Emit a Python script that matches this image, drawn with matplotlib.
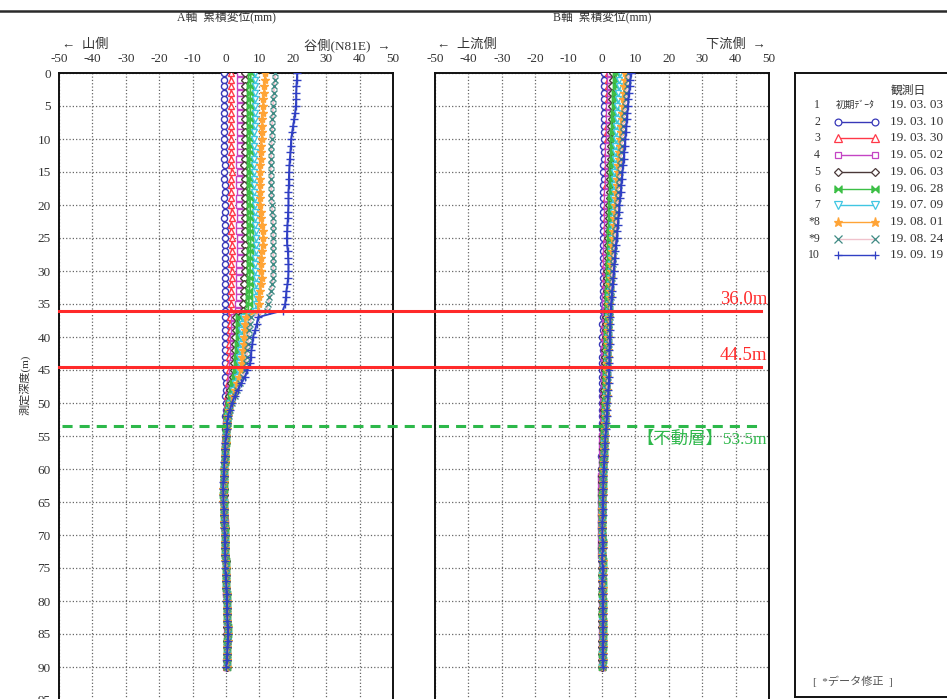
import numpy as np
import matplotlib
matplotlib.use("Agg")
import matplotlib.pyplot as plt
from matplotlib import transforms
from matplotlib.lines import Line2D

plt.rcParams['font.family'] = ['Liberation Serif', 'Noto Sans CJK JP', 'DejaVu Sans']
plt.rcParams['axes.unicode_minus'] = False

# depth of each reading (m)
depth = np.arange(0, 91, 1.0)

# A axis cumulative displacement (mm), one list per survey
a_s2 = [-0.6,-0.6,-0.7,-0.6,-0.6,-0.5,-0.6,-0.6,-0.5,-0.5,
        -0.5,-0.6,-0.5,-0.5,-0.4,-0.5,-0.5,-0.4,-0.4,-0.5,
        -0.4,-0.4,-0.5,-0.4,-0.4,-0.3,-0.4,-0.4,-0.3,-0.3,
        -0.3,-0.4,-0.3,-0.3,-0.2,-0.3,-0.3,-0.3,-0.2,-0.2,
        -0.2,-0.3,-0.2,-0.2,-0.2,-0.1,-0.2,-0.1,-0.1,-0.2,
        -0.1,-0.1,-0.2,-0.1,-0.2,-0.3,-0.3,-0.4,-0.4,-0.5,
        -0.5,-0.6,-0.6,-0.7,-0.6,-0.6,-0.5,-0.5,-0.4,-0.4,
        -0.3,-0.3,-0.2,-0.2,-0.1,-0.1,0.0,0.0,0.1,0.1,
        0.1,0.2,0.2,0.2,0.3,0.3,0.3,0.2,0.2,0.1,
        0.1]
a_s3 = [1.4,1.5,1.5,1.6,1.5,1.5,1.6,1.6,1.5,1.5,
        1.5,1.6,1.6,1.5,1.6,1.7,1.6,1.6,1.5,1.6,
        1.6,1.7,1.7,1.6,1.6,1.7,1.8,1.7,1.7,1.6,
        1.7,1.7,1.6,1.6,1.5,1.5,1.4,1.2,1.2,1.1,
        1.1,1.0,1.0,1.0,0.9,0.9,0.8,0.6,0.5,0.4,
        0.3,0.2,0.1,0.0,-0.1,-0.2,-0.2,-0.3,-0.3,-0.4,
        -0.5,-0.5,-0.6,-0.6,-0.6,-0.5,-0.5,-0.4,-0.4,-0.3,
        -0.3,-0.2,-0.2,-0.1,-0.1,0.0,0.0,0.1,0.1,0.2,
        0.2,0.2,0.3,0.3,0.4,0.4,0.3,0.3,0.2,0.2,
        0.1]
a_s4 = [4.2,4.3,4.2,4.2,4.1,4.2,4.2,4.1,4.1,4.2,
        4.1,4.1,4.2,4.0,4.0,4.1,4.0,4.0,4.1,4.0,
        4.0,4.1,4.1,4.0,4.0,4.1,4.2,4.1,4.1,4.0,
        4.0,4.0,3.9,3.9,3.8,3.7,3.5,2.5,2.4,2.3,
        2.2,2.2,2.1,2.0,1.9,1.8,1.6,1.3,1.0,0.8,
        0.6,0.4,0.2,0.1,0.0,-0.1,-0.2,-0.3,-0.4,-0.4,
        -0.5,-0.6,-0.6,-0.7,-0.7,-0.6,-0.6,-0.5,-0.4,-0.4,
        -0.3,-0.3,-0.2,-0.2,-0.1,-0.1,0.0,0.0,0.1,0.1,
        0.2,0.2,0.2,0.3,0.3,0.4,0.4,0.3,0.3,0.2,
        0.2]
a_s5 = [5.7,5.8,5.8,5.7,5.7,5.8,5.7,5.6,5.6,5.7,
        5.6,5.6,5.7,5.6,5.5,5.6,5.6,5.5,5.6,5.6,
        5.6,5.7,5.7,5.6,5.6,5.7,5.8,5.7,5.7,5.6,
        5.6,5.5,5.5,5.4,5.3,5.2,5.0,3.1,3.0,2.9,
        2.8,2.8,2.7,2.6,2.4,2.3,2.0,1.6,1.3,1.0,
        0.8,0.5,0.3,0.2,0.1,0.0,-0.1,-0.2,-0.3,-0.4,
        -0.5,-0.5,-0.6,-0.7,-0.7,-0.7,-0.6,-0.5,-0.5,-0.4,
        -0.3,-0.3,-0.2,-0.2,-0.1,0.0,0.0,0.1,0.1,0.2,
        0.2,0.3,0.3,0.3,0.4,0.4,0.4,0.3,0.3,0.2,
        0.2]
a_s6 = [7.4,7.4,7.3,7.3,7.2,7.3,7.3,7.2,7.2,7.2,
        7.1,7.2,7.2,7.1,7.1,7.2,7.2,7.1,7.1,7.2,
        7.2,7.3,7.3,7.2,7.2,7.3,7.4,7.3,7.3,7.2,
        7.2,7.1,7.1,7.0,6.9,6.8,6.6,4.0,3.9,3.8,
        3.8,3.7,3.6,3.4,3.3,3.0,2.7,2.2,1.8,1.4,
        1.0,0.7,0.4,0.3,0.1,0.0,-0.1,-0.2,-0.3,-0.4,
        -0.5,-0.6,-0.7,-0.7,-0.8,-0.7,-0.6,-0.6,-0.5,-0.4,
        -0.4,-0.3,-0.3,-0.2,-0.1,-0.1,0.0,0.1,0.1,0.2,
        0.3,0.3,0.4,0.4,0.5,0.5,0.4,0.4,0.3,0.3,
        0.2]
a_s7 = [8.8,8.8,8.7,8.7,8.6,8.7,8.6,8.6,8.6,8.5,
        8.5,8.5,8.6,8.5,8.4,8.5,8.5,8.4,8.5,8.6,
        8.6,8.7,8.8,8.8,8.9,9.0,9.0,8.9,8.8,8.8,
        8.8,8.9,9.0,9.0,9.1,9.0,8.8,5.0,4.8,4.6,
        4.5,4.4,4.2,4.0,3.9,3.6,3.2,2.7,2.2,1.7,
        1.2,0.8,0.5,0.3,0.1,0.0,-0.1,-0.2,-0.3,-0.4,
        -0.5,-0.6,-0.7,-0.8,-0.8,-0.7,-0.7,-0.6,-0.5,-0.5,
        -0.4,-0.3,-0.3,-0.2,-0.2,-0.1,0.0,0.0,0.1,0.2,
        0.2,0.3,0.3,0.4,0.4,0.5,0.5,0.4,0.3,0.3,
        0.2]
a_s8 = [11.7,11.6,11.5,11.4,11.2,11.1,11.0,10.9,10.8,10.8,
        10.7,10.6,10.5,10.4,10.3,10.2,10.2,10.1,10.2,10.2,
        10.2,10.4,10.6,10.8,11.0,11.1,11.0,10.8,10.6,10.5,
        10.6,10.7,10.5,10.3,10.0,9.8,9.6,6.0,5.8,5.6,
        5.5,5.3,5.1,4.9,4.7,4.4,3.9,3.3,2.7,2.1,
        1.5,1.0,0.6,0.4,0.2,0.0,-0.1,-0.2,-0.3,-0.4,
        -0.5,-0.6,-0.7,-0.8,-0.8,-0.8,-0.7,-0.6,-0.5,-0.5,
        -0.4,-0.4,-0.3,-0.2,-0.2,-0.1,0.0,0.0,0.1,0.2,
        0.3,0.3,0.4,0.4,0.5,0.5,0.5,0.4,0.3,0.3,
        0.2]
a_s9 = [14.7,14.6,14.4,14.3,14.2,14.1,14.0,13.9,13.8,13.8,
        13.7,13.6,13.5,13.5,13.4,13.4,13.4,13.5,13.6,13.6,
        13.7,13.9,14.0,14.1,14.2,14.1,14.0,14.1,14.2,14.2,
        14.1,14.0,13.8,13.4,13.0,12.6,12.2,7.5,7.3,7.0,
        6.8,6.6,6.4,6.2,6.0,5.6,5.0,4.2,3.4,2.6,
        1.9,1.3,0.8,0.5,0.2,0.0,-0.1,-0.2,-0.3,-0.4,
        -0.6,-0.7,-0.8,-0.8,-0.9,-0.8,-0.7,-0.6,-0.6,-0.5,
        -0.4,-0.4,-0.3,-0.3,-0.2,-0.1,0.0,0.0,0.1,0.2,
        0.2,0.3,0.4,0.4,0.5,0.6,0.5,0.4,0.4,0.3,
        0.2]
a_s10 = [21.3,21.2,21.1,21.0,21.0,20.9,20.7,20.4,20.1,19.8,
         19.5,19.4,19.3,19.1,19.0,18.9,18.8,18.8,18.7,18.7,
         18.7,18.6,18.5,18.4,18.3,18.2,18.3,18.5,18.6,18.7,
         18.7,18.6,18.4,18.1,17.9,17.7,17.0,9.6,9.2,8.7,
         8.1,7.9,7.6,7.4,7.2,6.4,5.7,4.6,3.5,2.6,
         1.8,1.2,0.6,0.3,0.2,0.0,-0.2,-0.3,-0.4,-0.5,
         -0.6,-0.7,-0.8,-0.9,-0.8,-0.8,-0.7,-0.6,-0.5,-0.5,
         -0.4,-0.4,-0.3,-0.3,-0.2,-0.2,-0.1,0.0,0.1,0.2,
         0.2,0.3,0.3,0.4,0.5,0.6,0.5,0.4,0.3,0.2,
         0.1]

# B axis cumulative displacement (mm)
b_s2 = [0.6,0.6,0.5,0.6,0.5,0.5,0.5,0.6,0.5,0.5,
        0.5,0.4,0.5,0.5,0.4,0.4,0.5,0.4,0.4,0.4,
        0.4,0.4,0.3,0.4,0.4,0.3,0.3,0.4,0.3,0.3,
        0.3,0.3,0.2,0.3,0.2,0.2,0.2,0.2,0.1,0.2,
        0.1,0.1,0.2,0.1,0.1,0.0,0.1,0.0,0.0,0.1,
        0.0,0.0,0.1,0.0,-0.1,0.0,-0.1,-0.1,-0.2,-0.1,
        -0.2,-0.2,-0.1,-0.2,-0.2,-0.3,-0.2,-0.2,-0.3,-0.2,
        -0.2,-0.1,-0.2,-0.1,-0.1,0.0,-0.1,0.0,0.0,0.1,
        0.0,0.1,0.1,0.0,0.1,0.1,0.0,0.1,0.0,0.0,
        0.0]
b_s3 = [1.9,1.9,1.8,1.8,1.8,1.7,1.7,1.7,1.6,1.6,
        1.6,1.5,1.5,1.5,1.4,1.4,1.4,1.3,1.3,1.3,
        1.3,1.2,1.2,1.2,1.1,1.1,1.1,1.0,1.0,1.0,
        1.0,0.9,0.9,0.9,0.8,0.8,0.8,0.8,0.7,0.7,
        0.7,0.7,0.6,0.6,0.6,0.6,0.5,0.5,0.5,0.5,
        0.4,0.4,0.4,0.3,0.3,0.3,0.2,0.2,0.2,0.1,
        0.1,0.1,0.0,0.0,0.0,-0.1,-0.1,-0.1,0.0,0.0,
        0.0,0.0,0.1,0.0,0.0,0.1,0.0,0.0,0.1,0.1,
        0.0,0.1,0.1,0.0,0.0,0.1,0.1,0.0,0.0,0.0,
        0.0]
b_s4 = [2.5,2.4,2.4,2.3,2.3,2.2,2.2,2.1,2.1,2.0,
        2.0,1.9,1.9,1.9,1.8,1.8,1.7,1.7,1.6,1.6,
        1.6,1.5,1.5,1.4,1.4,1.4,1.3,1.3,1.3,1.2,
        1.2,1.1,1.1,1.1,1.0,1.0,1.0,0.9,0.9,0.8,
        0.8,0.8,0.7,0.7,0.6,0.6,0.6,0.5,0.5,0.4,
        0.4,0.3,0.3,0.2,0.2,0.1,0.1,0.0,0.0,-0.1,
        -0.1,-0.2,-0.2,-0.3,-0.3,-0.3,-0.4,-0.4,-0.3,-0.3,
        -0.3,-0.2,-0.2,-0.2,-0.1,-0.1,0.0,0.0,-0.1,0.0,
        0.0,0.0,-0.1,0.0,0.0,0.1,0.0,0.0,-0.1,0.0,
        0.0]
b_s5 = [3.2,3.2,3.1,3.1,3.0,3.0,2.9,2.9,2.8,2.8,
        2.7,2.7,2.6,2.6,2.5,2.5,2.4,2.4,2.3,2.3,
        2.2,2.2,2.1,2.0,2.0,1.9,1.9,1.8,1.8,1.7,
        1.6,1.6,1.5,1.5,1.4,1.4,1.3,1.3,1.2,1.2,
        1.1,1.1,1.0,1.0,0.9,0.9,0.8,0.8,0.7,0.7,
        0.6,0.6,0.5,0.5,0.4,0.4,0.3,0.3,0.2,0.2,
        0.1,0.1,0.0,0.0,-0.1,-0.1,-0.1,0.0,0.0,0.0,
        0.0,0.1,0.0,0.0,0.1,0.1,0.0,0.1,0.1,0.0,
        0.1,0.1,0.0,0.1,0.1,0.2,0.1,0.1,0.0,0.1,
        0.1]
b_s6 = [4.3,4.2,4.1,4.0,3.9,3.8,3.7,3.6,3.5,3.4,
        3.4,3.3,3.2,3.2,3.1,3.0,3.0,2.9,2.9,2.8,
        2.8,2.7,2.7,2.6,2.5,2.5,2.4,2.3,2.3,2.2,
        2.1,2.1,2.0,1.9,1.9,1.8,1.8,1.7,1.7,1.6,
        1.6,1.5,1.5,1.4,1.4,1.3,1.3,1.2,1.2,1.1,
        1.0,1.0,0.9,0.8,0.7,0.7,0.6,0.5,0.5,0.4,
        0.3,0.3,0.2,0.2,0.1,0.1,0.1,0.0,0.1,0.1,
        0.1,0.2,0.1,0.1,0.2,0.2,0.1,0.2,0.2,0.1,
        0.2,0.2,0.1,0.2,0.2,0.3,0.2,0.2,0.1,0.2,
        0.1]
b_s7 = [5.3,5.2,5.0,4.9,4.7,4.6,4.5,4.4,4.3,4.2,
        4.1,4.0,3.9,3.9,3.8,3.7,3.6,3.6,3.5,3.4,
        3.4,3.3,3.2,3.1,3.0,3.0,2.9,2.8,2.7,2.7,
        2.6,2.5,2.4,2.3,2.2,2.1,2.0,1.9,1.9,1.8,
        1.8,1.7,1.7,1.6,1.6,1.5,1.5,1.4,1.3,1.3,
        1.2,1.1,1.0,0.9,0.8,0.8,0.7,0.6,0.5,0.5,
        0.4,0.3,0.3,0.2,0.2,0.1,0.1,0.1,0.1,0.0,
        0.1,0.1,0.2,0.1,0.1,0.2,0.1,0.1,0.2,0.2,
        0.1,0.2,0.2,0.1,0.2,0.2,0.3,0.2,0.1,0.2,
        0.1]
b_s8 = [7.0,6.9,6.7,6.5,6.3,6.2,6.0,5.9,5.7,5.6,
        5.5,5.3,5.2,5.0,4.9,4.8,4.6,4.5,4.3,4.2,
        4.0,3.9,3.7,3.6,3.4,3.3,3.1,3.0,2.9,2.8,
        2.7,2.6,2.5,2.4,2.3,2.2,2.1,2.0,1.9,1.9,
        1.8,1.8,1.7,1.7,1.6,1.6,1.5,1.5,1.4,1.4,
        1.3,1.2,1.1,1.0,0.9,0.8,0.8,0.7,0.6,0.5,
        0.4,0.4,0.3,0.3,0.2,0.2,0.1,0.1,0.1,0.1,
        0.1,0.2,0.2,0.1,0.2,0.2,0.2,0.1,0.2,0.2,
        0.2,0.3,0.2,0.2,0.3,0.3,0.2,0.2,0.2,0.2,
        0.2]
b_s9 = [7.8,7.7,7.5,7.3,7.1,6.9,6.7,6.5,6.3,6.2,
        6.0,5.9,5.7,5.6,5.4,5.3,5.1,5.0,4.8,4.7,
        4.5,4.4,4.2,4.1,3.9,3.8,3.6,3.5,3.3,3.2,
        3.0,2.9,2.8,2.7,2.6,2.5,2.4,2.3,2.2,2.1,
        2.0,2.0,1.9,1.9,1.8,1.8,1.7,1.6,1.6,1.5,
        1.4,1.3,1.2,1.1,1.0,0.9,0.8,0.7,0.6,0.6,
        0.5,0.4,0.4,0.3,0.3,0.2,0.2,0.2,0.1,0.1,
        0.2,0.2,0.1,0.2,0.2,0.1,0.2,0.2,0.1,0.2,
        0.2,0.2,0.3,0.2,0.2,0.3,0.3,0.2,0.2,0.2,
        0.2]
b_s10 = [8.6,8.5,8.3,8.1,7.9,7.8,7.6,7.4,7.3,7.1,
         7.0,6.8,6.6,6.5,6.3,6.1,5.9,5.8,5.6,5.4,
         5.2,5.1,4.9,4.7,4.6,4.4,4.2,4.0,3.9,3.7,
         3.5,3.4,3.2,3.0,2.9,2.7,2.6,2.5,2.4,2.4,
         2.3,2.3,2.2,2.2,2.2,2.1,2.1,2.0,1.9,1.8,
         1.6,1.5,1.4,1.3,1.2,1.0,0.9,0.8,0.7,0.6,
         0.5,0.4,0.4,0.3,0.3,0.2,0.2,0.2,0.1,0.1,
         0.1,0.2,0.2,0.1,0.1,0.2,0.2,0.1,0.1,0.2,
         0.2,0.2,0.3,0.3,0.2,0.3,0.3,0.2,0.2,0.2,
         0.2]

survey_no = ['1', '2', '3', '4', '5', '6', '7', '*8', '*9', '10']
survey_date = ['19. 03. 03', '19. 03. 10', '19. 03. 30', '19. 05. 02', '19. 06. 03',
               '19. 06. 28', '19. 07. 09', '19. 08. 01', '19. 08. 24', '19. 09. 19']

slip_depths = [36.0, 44.5]
stable_depth = 53.5

a_series = [a_s2, a_s3, a_s4, a_s5, a_s6, a_s7, a_s8, a_s9, a_s10]
b_series = [b_s2, b_s3, b_s4, b_s5, b_s6, b_s7, b_s8, b_s9, b_s10]

bowtie = [(-1, -1), (1, 1), (1, -1), (-1, 1), (-1, -1)]
# (line colour, marker, marker face, marker edge, marker size)
styles = [
    ('#3838b8', 'o', 'white', '#3838b8', 4.4),
    ('#ff3848', '^', 'white', '#ff3848', 4.6),
    ('#c444c4', 's', 'white', '#c444c4', 4.4),
    ('#4a3838', 'D', 'white', '#4a3838', 4.0),
    ('#3cbf46', bowtie, '#3cbf46', '#3cbf46', 4.6),
    ('#40c6e2', 'v', 'white', '#40c6e2', 4.6),
    ('#ffa436', '*', '#ffa436', '#ffa436', 6.0),
    ('#f0c2cc', 'x', 'none', '#3f8a84', 4.6),
    ('#3040c4', '+', 'none', '#3040c4', 5.6),
]

W, H = 947, 699


def box(l, t, r, b):
    return [l / W, 1 - b / H, (r - l) / W, (b - t) / H]


fig = plt.figure(figsize=(9.47, 6.99), dpi=100)

fig.add_artist(Line2D([0, 1], [1 - 10.5 / H, 1 - 10.5 / H], transform=fig.transFigure,
                      color='#2a2a2a', lw=1.8))

axA = fig.add_axes(box(59, 73, 393, 733))
axB = fig.add_axes(box(435, 73, 769, 733))


def setup(ax, series, showy):
    for vals, (lc, mk, mf, me, ms) in zip(series, styles):
        ax.plot(vals, depth, color=lc, lw=1.3, marker=mk, ms=ms, mfc=mf, mec=me,
                mew=1.0, zorder=3)
    ax.set_xlim(-50, 50)
    ax.set_ylim(100, 0)
    ax.set_xticks(np.arange(-50, 51, 10))
    ax.set_yticks(np.arange(0, 100, 5))
    ax.xaxis.tick_top()
    ax.tick_params(axis='x', length=0, pad=6, labelsize=9.5, labelcolor='#333333')
    ax.tick_params(axis='y', length=0, pad=6, labelsize=9.5, labelcolor='#333333',
                   labelleft=showy)
    ax.grid(True, color='#666666', ls=':', lw=0.9)
    ax.set_axisbelow(True)
    for s in ax.spines.values():
        s.set_linewidth(1.4)
        s.set_color('#111111')


setup(axA, a_series, True)
setup(axB, b_series, False)

# axis headings
fig.text(226 / W, 1 - 17 / H, 'A軸  累積変位(mm)', ha='center', va='center', fontsize=8.5, color='#333333')
fig.text(602 / W, 1 - 17 / H, 'B軸  累積変位(mm)', ha='center', va='center', fontsize=8.5, color='#333333')
fig.text(62 / W, 1 - 45 / H, '←  山側', ha='left', va='center', fontsize=9.5, color='#333333')
fig.text(390 / W, 1 - 45 / H, '谷側(N81E)  →', ha='right', va='center', fontsize=9.5, color='#333333')
fig.text(437 / W, 1 - 45 / H, '←  上流側', ha='left', va='center', fontsize=9.5, color='#333333')
fig.text(766 / W, 1 - 45 / H, '下流側  →', ha='right', va='center', fontsize=9.5, color='#333333')
fig.text(25 / W, 1 - 385 / H, '測定深度(m)', rotation=90, ha='center', va='center',
         fontsize=8, color='#333333')

# slip surfaces and stable layer, drawn across both panels
blend = transforms.blended_transform_factory(fig.transFigure, axA.transData)
for d in slip_depths:
    fig.add_artist(Line2D([59 / W, 761 / W], [d, d], transform=blend,
                          color='#ff2a2a', lw=2.2, zorder=5))
    fig.text(767 / W, d - 0.4, f'{d:.1f}m', transform=blend, ha='right', va='bottom',
             fontsize=13.5, color='#ff2a2a', zorder=6)
fig.add_artist(Line2D([62 / W, 763 / W], [stable_depth, stable_depth], transform=blend,
                      color='#2db84a', lw=2.2, ls=(0, (3.3, 2.3)), zorder=5))
fig.text(767 / W, stable_depth + 0.8, f'【不動層】{stable_depth:.1f}m', transform=blend,
         ha='right', va='top', fontsize=12.5, color='#2db84a', zorder=6)

# legend panel
axL = fig.add_axes(box(795, 73, 980, 697))
axL.set_xlim(0, 185)
axL.set_ylim(624, 0)
axL.set_xticks([])
axL.set_yticks([])
for s in axL.spines.values():
    s.set_linewidth(1.4)
    s.set_color('#111111')

axL.text(113, 18, '観測日', ha='center', va='center', fontsize=8.5, color='#333333')
for i, (no, dt) in enumerate(zip(survey_no, survey_date)):
    y = 32 + 16.7 * i
    axL.text(25, y, no, ha='right', va='center', fontsize=8.5, color='#333333')
    axL.text(95, y, dt, ha='left', va='center', fontsize=9.5, color='#333333')
    if i == 0:
        axL.text(41, y, '初期ﾃﾞｰﾀ', ha='left', va='center', fontsize=7, color='#333333')
    else:
        lc, mk, mf, me, ms = styles[i - 1]
        axL.plot([43, 80], [y, y], color=lc, lw=1.0, marker=mk, ms=ms + 0.5, mfc=mf,
                 mec=me, mew=0.9)
axL.text(18, 608, '[  *データ修正  ]', ha='left', va='center', fontsize=8, color='#555555')

fig.savefig('out.png', dpi=100)
